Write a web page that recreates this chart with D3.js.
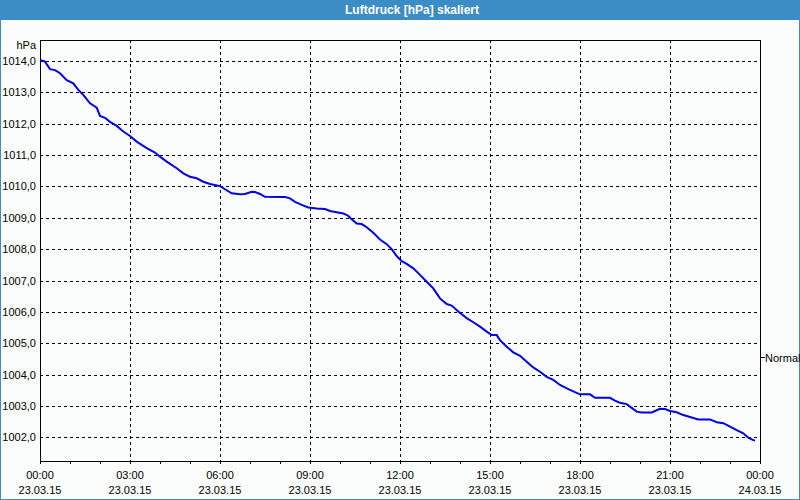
<!DOCTYPE html>
<html><head><meta charset="utf-8">
<script src="https://cdn.jsdelivr.net/npm/d3@7"></script>
<style>html,body{margin:0;padding:0;background:#fff;}svg{display:block;}</style>
</head><body>
<script>
// Data (hours since 23.03.15 00:00, pressure in hPa)
const hours = [0,0.167,0.333,0.5,0.667,0.89,1.11,1.277,1.443,1.667,1.89,2.0,2.167,2.333,2.557,2.777,3.0,3.223,3.557,3.833,4.0,4.223,4.557,4.777,5.0,5.223,5.443,5.667,6.0,6.167,6.39,6.667,6.833,7.057,7.167,7.333,7.5,8.167,8.333,8.5,8.723,8.943,9.223,9.5,9.667,9.89,10.11,10.277,10.39,10.557,10.723,10.89,11.11,11.333,11.557,11.723,11.89,12.057,12.223,12.443,12.667,12.89,13.11,13.333,13.557,13.723,13.943,14.223,14.443,14.667,14.89,15.057,15.223,15.333,15.557,15.777,16.0,16.223,16.443,16.667,16.89,17.11,17.333,17.61,17.833,18.0,18.333,18.5,19.0,19.167,19.333,19.557,19.723,19.89,20.057,20.39,20.5,20.667,20.833,21.0,21.223,21.443,21.723,21.943,22.333,22.557,22.777,23.0,23.223,23.443,23.61,23.777,23.833];
const pressure = [1014.03,1013.98,1013.74,1013.71,1013.61,1013.39,1013.29,1013.08,1012.92,1012.65,1012.51,1012.25,1012.19,1012.06,1011.93,1011.75,1011.61,1011.43,1011.22,1011.08,1010.95,1010.79,1010.58,1010.42,1010.31,1010.26,1010.15,1010.08,1010.01,1009.91,1009.78,1009.75,1009.76,1009.83,1009.82,1009.76,1009.67,1009.66,1009.62,1009.51,1009.41,1009.33,1009.30,1009.28,1009.22,1009.18,1009.14,1009.06,1008.95,1008.82,1008.80,1008.70,1008.52,1008.31,1008.16,1008.00,1007.78,1007.62,1007.53,1007.39,1007.18,1006.96,1006.75,1006.43,1006.25,1006.20,1006.01,1005.80,1005.67,1005.53,1005.37,1005.26,1005.26,1005.10,1004.89,1004.71,1004.60,1004.41,1004.23,1004.09,1003.93,1003.83,1003.67,1003.54,1003.44,1003.37,1003.37,1003.26,1003.26,1003.17,1003.10,1003.06,1002.94,1002.82,1002.79,1002.79,1002.84,1002.91,1002.90,1002.84,1002.80,1002.71,1002.63,1002.57,1002.57,1002.48,1002.45,1002.34,1002.23,1002.13,1001.99,1001.91,1001.90];
const yTicks = [1002,1003,1004,1005,1006,1007,1008,1009,1010,1011,1012,1013,1014];
const xTickHours = [0,3,6,9,12,15,18,21,24];
const xTimeLabels = ["00:00","03:00","06:00","09:00","12:00","15:00","18:00","21:00","00:00"];
const xDateLabels = ["23.03.15","23.03.15","23.03.15","23.03.15","23.03.15","23.03.15","23.03.15","23.03.15","24.03.15"];
const normalValue = 1004.55;
const title = "Luftdruck [hPa] skaliert";
const unit = "hPa";

const W = 800, H = 500;
const L = 40, R = 760, T = 40, B = 461;
const font = "'Liberation Sans', Arial, sans-serif";

const svg = d3.select("body").append("svg").attr("width", W).attr("height", H);
svg.append("rect").attr("x",0).attr("y",0).attr("width",W).attr("height",H).attr("fill","#fbfdfc");
svg.append("rect").attr("x",0.5).attr("y",0.5).attr("width",W-1).attr("height",H-1).attr("fill","none").attr("stroke","#3c8dc5");
svg.append("rect").attr("x",0).attr("y",0).attr("width",W).attr("height",20).attr("fill","#3c8dc5");
svg.append("text").attr("x",412).attr("y",14).attr("text-anchor","middle").attr("fill","#fff")
  .attr("font-family",font).attr("font-weight","bold").attr("font-size","12px").text(title);

const x = d3.scaleLinear().domain([0,24]).range([L,R]);
const y = d3.scaleLinear().domain([1001.245,1014.67]).range([B,T]);

const grid = svg.append("g").attr("stroke","#000").attr("stroke-dasharray","3,3").attr("stroke-width",1);
yTicks.forEach(v => {
  const yy = Math.round(y(v)) + 0.5;
  grid.append("line").attr("x1",L).attr("x2",R).attr("y1",yy).attr("y2",yy);
});
xTickHours.slice(1,-1).forEach(h => {
  const xx = Math.round(x(h)) + 0.5;
  grid.append("line").attr("x1",xx).attr("x2",xx).attr("y1",T).attr("y2",B);
});

// y labels
const yl = svg.append("g").attr("font-family",font).attr("font-size","11px").attr("fill","#000").attr("text-anchor","end");
yTicks.forEach(v => {
  yl.append("text").attr("x",36).attr("y",Math.round(y(v))+4).text(v.toFixed(1).replace(".",","));
});
yl.append("text").attr("x",36).attr("y",49).text(unit);

// x axis ticks (hourly)
const xAxis = d3.axisBottom(x).tickValues(d3.range(0,25)).tickSize(3).tickFormat("");
const gx = svg.append("g").attr("transform",`translate(0,${B})`).call(xAxis);
gx.select(".domain").remove();
gx.selectAll(".tick line").attr("stroke","#000");

const xl = svg.append("g").attr("font-family",font).attr("font-size","11px").attr("fill","#000").attr("text-anchor","middle");
xTickHours.forEach((h,i) => {
  xl.append("text").attr("x",x(h)).attr("y",479).text(xTimeLabels[i]);
  xl.append("text").attr("x",x(h)).attr("y",494).text(xDateLabels[i]);
});

// frame
svg.append("rect").attr("x",L+0.5).attr("y",T+0.5).attr("width",R-L).attr("height",B-T)
  .attr("fill","none").attr("stroke","#000");

// normal marker
const ny = Math.round(y(normalValue)) + 0.5;
svg.append("line").attr("x1",R+1).attr("x2",R+5).attr("y1",ny).attr("y2",ny).attr("stroke","#000");
svg.append("text").attr("x",R+5).attr("y",ny+4).attr("font-family",font).attr("font-size","11px").attr("fill","#000").text("Normal");

// data line
const data = hours.map((h,i) => [h, pressure[i]]);
svg.append("path").datum(data)
  .attr("fill","none").attr("stroke","#0000e6").attr("stroke-width",2)
  .attr("d", d3.line().x(d => x(d[0])).y(d => y(d[1])));
</script>
</body></html>
